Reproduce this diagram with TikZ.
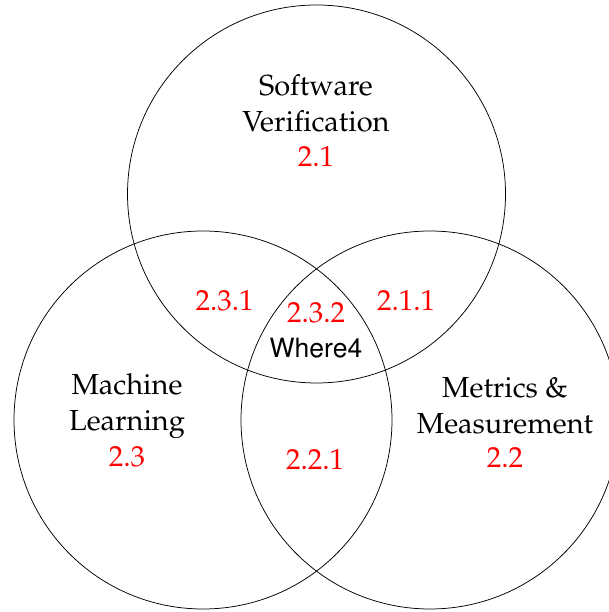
\documentclass[tikz,border=0pt]{standalone}
\usepackage[T1]{fontenc}
\usepackage{mathpazo}
\usepackage{helvet}
\begin{document}
\begin{tikzpicture}[x=1pt,y=1pt,
  setcircle/.style={draw=black,line width=0.75pt,circle,minimum size=378pt,inner sep=0pt},
  areatitle/.style={align=center,font=\fontsize{29}{36}\selectfont,inner sep=0pt},
  sectnum/.style={text=red,font=\fontsize{29}{36}\selectfont,inner sep=0pt},
  toolname/.style={font=\fontsize{26.5}{30}\sffamily\selectfont,inner sep=0pt}]
\useasboundingbox (0,0) rectangle (609,612);
% the three overlapping research areas
\node[setcircle] (sv) at (316.5,418) {};
\node[setcircle] (ml) at (203,192) {};
\node[setcircle] (mm) at (430,192) {};
% area titles with their section numbers
\node[areatitle] (svt) at (316,509) {Software\\Verification};
\node[sectnum]   (svn) at (316,455) {2.1};
\node[areatitle] (mlt) at (127,206) {Machine\\Learning};
\node[sectnum]   (mln) at (127,155) {2.3};
\node[areatitle] (mmt) at (505,206) {Metrics \&\\Measurement};
\node[sectnum]   (mmn) at (505,155) {2.2};
% pairwise and triple overlaps
\node[sectnum] (o231) at (224.5,311) {2.3.1};
\node[sectnum] (o211) at (406,311) {2.1.1};
\node[sectnum] (o232) at (316,299) {2.3.2};
\node[toolname] (w4) at (316,264) {Where4};
\node[sectnum] (o221) at (315,153) {2.2.1};
\end{tikzpicture}
\end{document}
